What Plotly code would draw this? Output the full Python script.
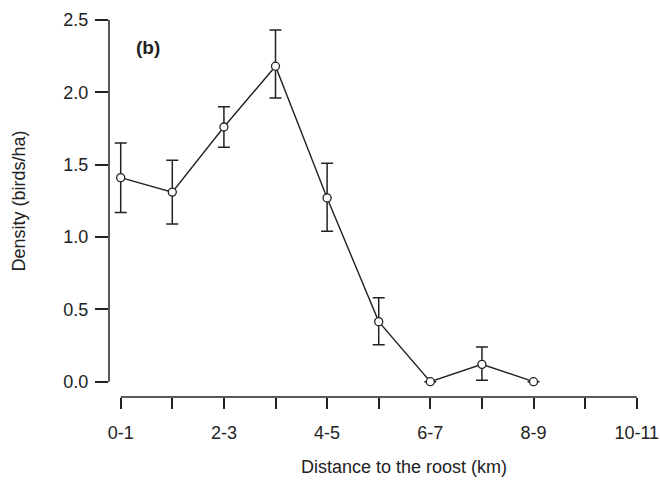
import plotly.graph_objects as go

categories = ["0-1", "1-2", "2-3", "3-4", "4-5", "5-6", "6-7", "7-8", "8-9", "9-10", "10-11"]
tick_labels = ["0-1", "", "2-3", "", "4-5", "", "6-7", "", "8-9", "", "10-11"]
density = [1.41, 1.31, 1.76, 2.18, 1.27, 0.415, 0.0, 0.12, 0.0]
upper = [1.65, 1.53, 1.90, 2.43, 1.51, 0.58, 0.0, 0.24, 0.0]
lower = [1.17, 1.09, 1.62, 1.96, 1.04, 0.255, 0.0, 0.01, 0.0]
y_ticks = [0.0, 0.5, 1.0, 1.5, 2.0, 2.5]

x_used = categories[:len(density)]
err_plus = [u - v for u, v in zip(upper, density)]
err_minus = [v - l for v, l in zip(density, lower)]

ink = "#222222"
font = "Liberation Sans, Arial, Helvetica, sans-serif"

fig = go.Figure()
fig.add_trace(go.Scatter(
    x=x_used, y=density, mode="lines+markers",
    line=dict(color=ink, width=1.4),
    marker=dict(symbol="circle", size=8, color="white", line=dict(color=ink, width=1.3)),
    error_y=dict(type="data", symmetric=False, array=err_plus, arrayminus=err_minus,
                 color=ink, thickness=1.5, width=6),
    showlegend=False,
))

# R-style detached axis lines
fig.add_shape(type="line", xref="x", yref="paper", x0=0, x1=len(categories) - 1, y0=0, y1=0,
              line=dict(color=ink, width=1.5))
fig.add_shape(type="line", xref="paper", yref="y", x0=0, x1=0, y0=y_ticks[0], y1=y_ticks[-1],
              line=dict(color=ink, width=1.5))

fig.add_annotation(text="<b>(b)</b>", x=0.52, y=2.306, xref="x", yref="y",
                   showarrow=False, font=dict(family=font, size=19, color=ink))
fig.add_annotation(text="Distance to the roost (km)", x=0.545, y=-0.1786,
                   xref="paper", yref="paper", xanchor="center", yanchor="middle",
                   showarrow=False, font=dict(family=font, size=18, color=ink))

fig.update_xaxes(
    type="category", categoryorder="array", categoryarray=categories,
    tickmode="array", tickvals=categories, ticktext=tick_labels,
    range=[-0.2267, 10.257], showline=False, showgrid=False, zeroline=False,
    ticks="outside", ticklen=11, tickwidth=1.5, tickcolor=ink,
    ticklabelstandoff=8, ticklabeloverflow="allow", automargin=False,
    tickfont=dict(family=font, size=18, color=ink),
)
fig.update_yaxes(
    range=[-0.1057, 2.603], tickmode="array", tickvals=y_ticks,
    ticktext=[f"{v:.1f}" for v in y_ticks],
    showline=False, showgrid=False, zeroline=False,
    ticks="outside", ticklen=13, tickwidth=1.5, tickcolor=ink,
    ticklabelstandoff=3, automargin=False,
    tickfont=dict(family=font, size=18, color=ink),
    title=dict(text="Density (birds/ha)", standoff=33,
               font=dict(family=font, size=18, color=ink)),
)
fig.update_layout(
    width=660, height=483,
    margin=dict(l=109, r=10, t=5, b=86, autoexpand=False),
    plot_bgcolor="white", paper_bgcolor="white",
)
fig.write_html("out.html", config={"displayModeBar": False},
               post_script="document.body.style.margin='0';document.body.style.overflow='hidden';")
